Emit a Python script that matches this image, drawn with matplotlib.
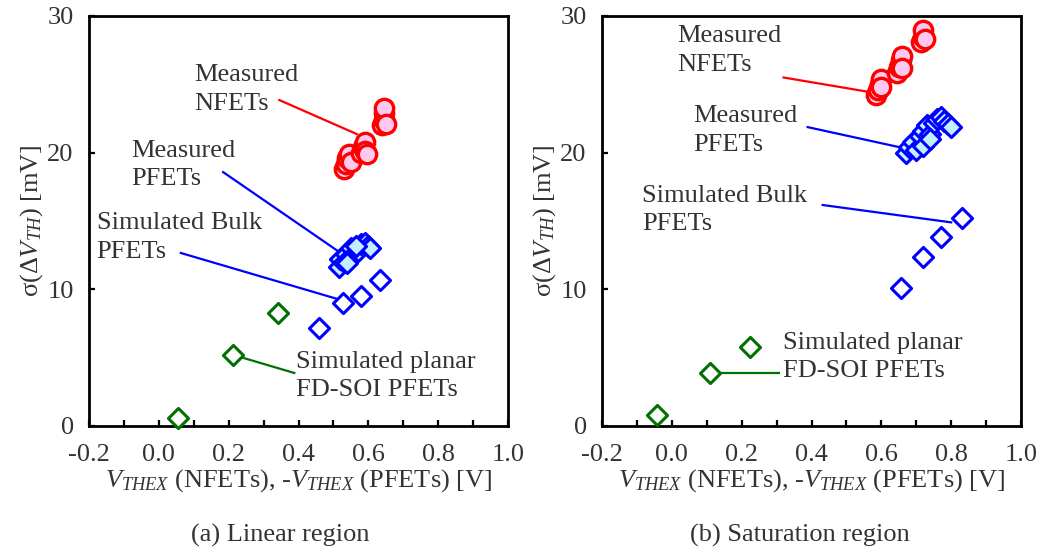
import matplotlib
matplotlib.use("Agg")
import matplotlib.pyplot as plt
from matplotlib.ticker import MultipleLocator

plt.rcParams['font.family'] = ['Liberation Serif', 'DejaVu Serif']
plt.rcParams['mathtext.fontset'] = 'custom'
plt.rcParams['mathtext.rm'] = 'Liberation Serif'
plt.rcParams['mathtext.it'] = 'Liberation Serif:italic'
plt.rcParams['mathtext.bf'] = 'Liberation Serif:bold'

# ---------------- data: (a) Linear region ----------------
lin_meas_n_x = [0.53, 0.535, 0.54, 0.545, 0.55, 0.58, 0.585, 0.59, 0.59, 0.595, 0.64, 0.645, 0.645, 0.645, 0.65]
lin_meas_n_y = [18.8, 19.2, 19.6, 19.9, 19.3, 20.0, 20.4, 20.8, 20.1, 19.9, 22.0, 22.4, 22.9, 23.3, 22.1]
lin_meas_p_x = [0.515, 0.52, 0.53, 0.535, 0.545, 0.55, 0.56, 0.57, 0.58, 0.59, 0.60, 0.605, 0.54, 0.565]
lin_meas_p_y = [11.6, 12.2, 12.0, 12.6, 12.3, 13.0, 12.6, 12.8, 13.3, 13.4, 13.2, 13.0, 11.9, 13.2]
lin_sim_bulk_x = [0.46, 0.527, 0.578, 0.633]
lin_sim_bulk_y = [7.2, 9.0, 9.5, 10.7]
lin_sim_soi_x = [0.055, 0.213, 0.342]
lin_sim_soi_y = [0.6, 5.2, 8.3]

# ---------------- data: (b) Saturation region ----------------
sat_meas_n_x = [0.585, 0.59, 0.595, 0.60, 0.60, 0.645, 0.65, 0.655, 0.66, 0.66, 0.715, 0.72, 0.72, 0.725]
sat_meas_n_y = [24.2, 24.6, 25.0, 25.4, 24.8, 25.8, 26.3, 26.8, 27.1, 26.2, 28.1, 28.5, 29.0, 28.3]
sat_meas_p_x = [0.67, 0.68, 0.69, 0.70, 0.71, 0.72, 0.73, 0.74, 0.75, 0.76, 0.77, 0.78, 0.79, 0.80, 0.72, 0.74]
sat_meas_p_y = [20.0, 20.4, 20.8, 20.2, 21.2, 21.6, 22.0, 21.4, 22.2, 22.5, 22.6, 22.3, 22.1, 21.9, 20.5, 21.0]
sat_sim_bulk_x = [0.655, 0.72, 0.77, 0.83]
sat_sim_bulk_y = [10.1, 12.4, 13.8, 15.2]
sat_sim_soi_x = [-0.043, 0.109, 0.224]
sat_sim_soi_y = [0.8, 3.9, 5.8]

x_ticks = [-0.2, 0.0, 0.2, 0.4, 0.6, 0.8, 1.0]
x_tick_labels = ['-0.2', '0.0', '0.2', '0.4', '0.6', '0.8', '1.0']
y_ticks = [0, 10, 20, 30]

RED = '#ff0000'
PINK = '#ffc8f0'
BLUE = '#0000ff'
CYAN = '#c0f0ff'
GREEN = '#007000'
TXT = '#333333'
FS = 19

fig = plt.figure(figsize=(10.43, 5.54), dpi=100)
axw = 419 / 1043
axh = 410 / 554
bottom = (554 - 426) / 554
ax1 = fig.add_axes([89 / 1043, bottom, axw, axh])
ax2 = fig.add_axes([602 / 1043, bottom, axw, axh])


def style(ax):
    ax.set_xlim(-0.2, 1.0)
    ax.set_ylim(0, 30)
    ax.set_xticks(x_ticks)
    ax.set_xticklabels(x_tick_labels)
    ax.xaxis.set_minor_locator(MultipleLocator(0.1))
    ax.set_yticks(y_ticks)
    for s in ax.spines.values():
        s.set_linewidth(2.0)
        s.set_color('black')
    ax.tick_params(axis='both', which='both', direction='in', length=4, width=1.6,
                   labelsize=FS, labelcolor=TXT, color='black')
    ax.tick_params(axis='x', which='both', pad=13)
    ax.tick_params(axis='y', which='both', pad=11)
    ax.set_xlabel(r'$V_{THEX}$ (NFETs), -$V_{THEX}$ (PFETs) [V]', fontsize=FS, color=TXT, labelpad=1)
    ax.set_ylabel(r'σ(Δ$V_{TH}$) [mV]', fontsize=FS, color=TXT, labelpad=2)


def draw(ax, nx, ny, px, py, bx, by, sx, sy):
    ax.scatter(sx, sy, marker='D', s=105, facecolor='white', edgecolor=GREEN, linewidth=2.2, zorder=3, clip_on=False)
    ax.scatter(bx, by, marker='D', s=105, facecolor='white', edgecolor=BLUE, linewidth=2.2, zorder=3)
    ax.scatter(px, py, marker='D', s=105, facecolor=CYAN, edgecolor=BLUE, linewidth=2.2, zorder=3)
    ax.scatter(nx, ny, marker='o', s=175, facecolor=PINK, edgecolor=RED, linewidth=2.4, zorder=3)


style(ax1)
style(ax2)
draw(ax1, lin_meas_n_x, lin_meas_n_y, lin_meas_p_x, lin_meas_p_y,
     lin_sim_bulk_x, lin_sim_bulk_y, lin_sim_soi_x, lin_sim_soi_y)
draw(ax2, sat_meas_n_x, sat_meas_n_y, sat_meas_p_x, sat_meas_p_y,
     sat_sim_bulk_x, sat_sim_bulk_y, sat_sim_soi_x, sat_sim_soi_y)

# leader lines and annotations: (a)
ax1.plot([0.345, 0.567], [23.85, 21.36], color=RED, lw=1.6, zorder=2)
ax1.plot([0.184, 0.509], [18.58, 12.87], color=BLUE, lw=1.6, zorder=2)
ax1.plot([0.063, 0.512], [12.66, 9.29], color=BLUE, lw=1.6, zorder=2)
ax1.plot([0.213, 0.388], [5.2, 3.88], color=GREEN, lw=1.6, zorder=2)
kw = dict(fontsize=FS, color=TXT, va='center', ha='left', linespacing=1.4)
ax1.text(0.10, 24.65, 'Measured\nNFETs', **kw)
ax1.text(-0.078, 19.1, 'Measured\nPFETs', **kw)
ax1.text(-0.178, 13.8, 'Simulated Bulk\nPFETs', **kw)
ax1.text(0.394, 3.66, 'Simulated planar\nFD-SOI PFETs', **kw)

# leader lines and annotations: (b)
ax2.plot([0.32, 0.575], [25.5, 24.4], color=RED, lw=1.6, zorder=2)
ax2.plot([0.389, 0.67], [21.87, 20.3], color=BLUE, lw=1.6, zorder=2)
ax2.plot([0.432, 0.80], [16.17, 14.9], color=BLUE, lw=1.6, zorder=2)
ax2.plot([0.109, 0.308], [3.9, 3.9], color=GREEN, lw=1.6, zorder=2)
ax2.text(0.014, 27.5, 'Measured\nNFETs', **kw)
ax2.text(0.06, 21.65, 'Measured\nPFETs', **kw)
ax2.text(-0.086, 15.8, 'Simulated Bulk\nPFETs', **kw)
ax2.text(0.317, 5.05, 'Simulated planar\nFD-SOI PFETs', **kw)

fig.text(280 / 1043, 1 - 535 / 554, '(a) Linear region', fontsize=FS, color=TXT, ha='center', va='center')
fig.text(800 / 1043, 1 - 535 / 554, '(b) Saturation region', fontsize=FS, color=TXT, ha='center', va='center')

fig.savefig('out.png', dpi=100)
